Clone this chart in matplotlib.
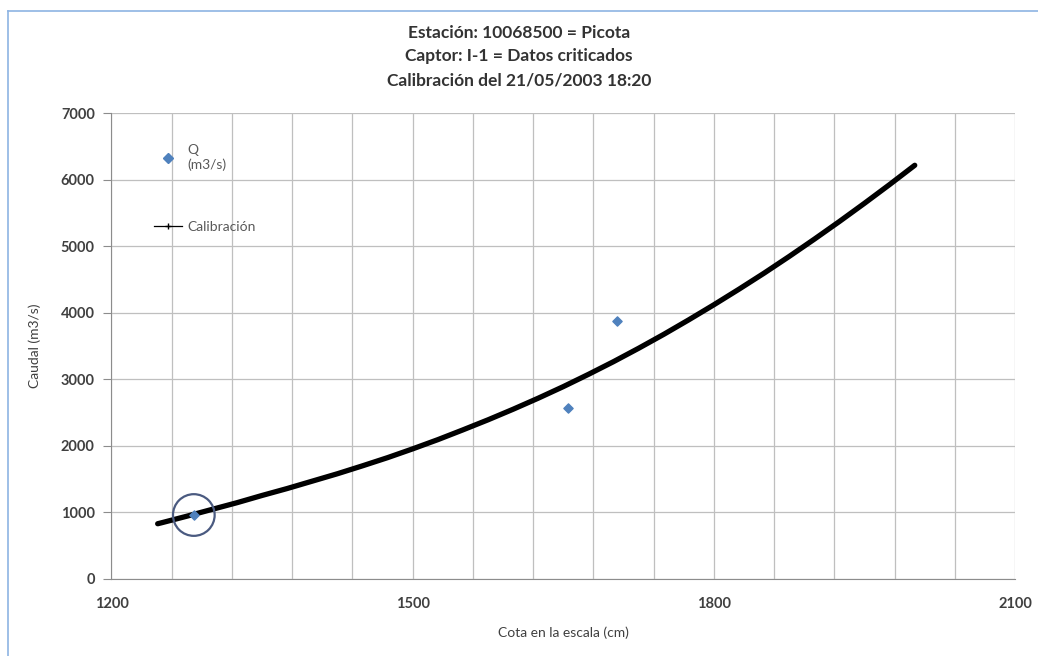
import matplotlib
matplotlib.use("Agg")
import matplotlib.pyplot as plt
from matplotlib.lines import Line2D
from matplotlib.ticker import MultipleLocator

plt.rcParams["font.family"] = ["Lato", "DejaVu Sans"]

# Measured discharge (aforos)
cota_q = [1282, 1655, 1703]
caudal_q = [961, 2568, 3874]

# Highlighted gauging
cota_sel = [1282]
caudal_sel = [961]

# Rating curve (calibración)
cota_cal = [1246, 1250, 1275, 1300, 1325, 1350, 1375, 1400, 1425, 1450,
            1475, 1500, 1525, 1550, 1575, 1600, 1625, 1650, 1675, 1700,
            1725, 1750, 1775, 1800, 1825, 1850, 1875, 1900, 1925, 1950,
            1975, 2000]
caudal_cal = [830, 845, 943, 1045, 1146, 1255, 1359, 1470, 1581, 1700,
              1823, 1955, 2093, 2240, 2391, 2550, 2716, 2890, 3074, 3265,
              3466, 3675, 3894, 4120, 4354, 4595, 4846, 5105, 5371, 5645,
              5926, 6215]

titulo = ["Estación: 10068500 = Picota",
          "Captor: I-1 = Datos criticados",
          "Calibración del 21/05/2003 18:20"]

fig = plt.figure(figsize=(10.38, 6.56), dpi=100)
ax = fig.add_axes([0.1074, 0.1174, 0.978 - 0.1074, 0.8277 - 0.1174])

grid_col = "#bfbfbf"
text_col = "#404040"

ax.plot(cota_cal, caudal_cal, color="black", lw=3.8, solid_capstyle="round",
        solid_joinstyle="round", zorder=3)
ax.scatter(cota_q, caudal_q, marker="D", s=22, color="#4f81bd", zorder=4)
ax.scatter(cota_sel, caudal_sel, marker="o", s=900, facecolors="none",
           edgecolors="#4a5a80", linewidths=1.6, zorder=5)

ax.set_xlim(1200, 2100)
ax.set_ylim(0, 7000)
ax.xaxis.set_major_locator(MultipleLocator(300))
ax.xaxis.set_minor_locator(MultipleLocator(60))
ax.yaxis.set_major_locator(MultipleLocator(1000))
ax.grid(which="both", axis="x", color=grid_col, lw=0.9)
ax.grid(which="major", axis="y", color=grid_col, lw=0.9)
ax.set_axisbelow(True)

for s in ["top", "right"]:
    ax.spines[s].set_visible(False)
for s in ["left", "bottom"]:
    ax.spines[s].set_color("#8c8c8c")
ax.tick_params(axis="y", which="major", length=6, color="#8c8c8c",
               labelsize=10.5, labelcolor=text_col, pad=6)
ax.tick_params(axis="x", which="major", length=0, labelsize=10.5,
               labelcolor=text_col, pad=13)
ax.tick_params(axis="x", which="minor", length=0)
for lab in ax.get_xticklabels() + ax.get_yticklabels():
    lab.set_fontweight("bold")

ax.set_xlabel("Cota en la escala (cm)", fontsize=10, color=text_col,
              labelpad=11)
ax.set_ylabel("Caudal (m3/s)", fontsize=10, color=text_col, labelpad=14)

for i, linea in enumerate(titulo):
    fig.text(0.5, 1 - (33 + 23.5 * i) / 656, linea, ha="center", va="center",
             fontsize=12.5, fontweight="bold", color="#333333")

handles = [
    Line2D([], [], ls="none", marker="D", ms=5, color="#4f81bd"),
    Line2D([], [], color="black", lw=0.9, marker="+", ms=4),
]
leg = ax.legend(handles, ["Q\n(m3/s)", "Calibración"], loc="upper left",
                bbox_to_anchor=(0.033, 0.96), frameon=False, fontsize=10,
                labelspacing=3.6, handlelength=2.0, handletextpad=0.4)
for t in leg.get_texts():
    t.set_color("#595959")

# chart area border
border = "#8eb4e3"
fig.add_artist(Line2D([8 / 1038, 8 / 1038], [0, 1 - 11 / 656],
                      transform=fig.transFigure, color=border, lw=1.2))
fig.add_artist(Line2D([8 / 1038, 1], [1 - 11 / 656, 1 - 11 / 656],
                      transform=fig.transFigure, color=border, lw=1.2))

fig.savefig("out.png", dpi=100)
